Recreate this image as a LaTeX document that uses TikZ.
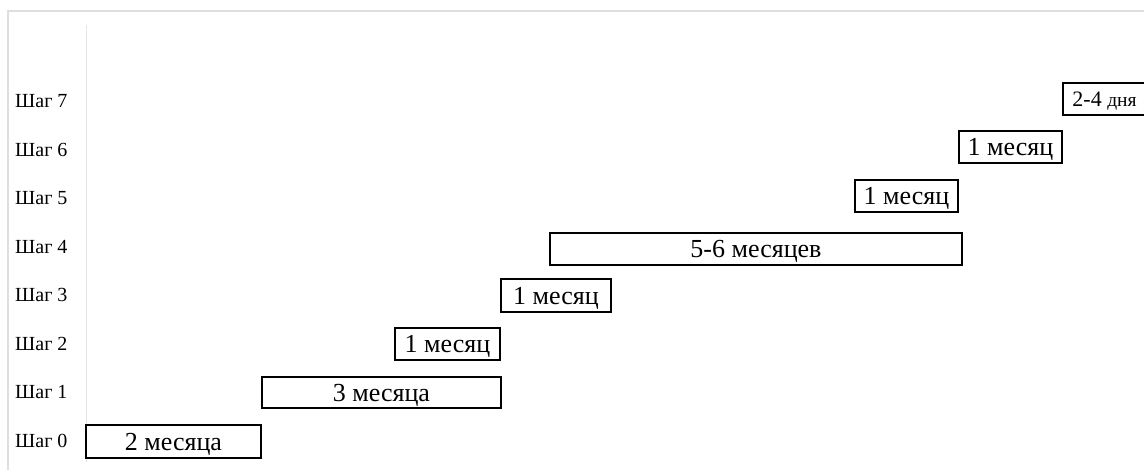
\documentclass[tikz,border=0pt]{standalone}
\usepackage{fontspec}
\setmainfont{Liberation Serif}
\usepackage{tikz}
\usetikzlibrary{positioning}

\begin{document}
\begin{tikzpicture}[x=1pt, y=-1pt,
	bar/.style={draw=black, line width=1.2pt, inner sep=0pt, text height=18pt, text depth=0pt, font=\fontsize{26}{30}\selectfont},
	steplabel/.style={anchor=base west, inner sep=0pt, font=\fontsize{20}{24}\selectfont}]
	\useasboundingbox (0,0) rectangle (1144,470);
	\clip (0,0) rectangle (1144,470);
	
	% Рамка и ось
	\draw[black!13, line width=1.2pt] (8,480) -- (8,11) -- (1150,11);
	\draw[black!10, line width=1pt] (86,25) -- (86,462);
	
	% Подписи шагов
	\foreach \i/\y in {0/447.5,1/399,2/350.5,3/302,4/253.5,5/205,6/156.5,7/108}
		\node[steplabel] (s\i) at (15,\y) {Шаг \i};
	
	% Этапы
	\node[bar, minimum width=175, minimum height=33] (b0) at (173.5,441.5) {2 месяца};
	\node[bar, minimum width=239, minimum height=31] (b1) at (381.5,392.5) {3 месяца};
	\node[bar, minimum width=105, minimum height=32] (b2) at (447.5,344) {1 месяц};
	\node[bar, minimum width=110, minimum height=33] (b3) at (556,295.5) {1 месяц};
	\node[bar, minimum width=412, minimum height=32] (b4) at (756,249) {5-6 месяцев};
	\node[bar, minimum width=103, minimum height=32] (b5) at (906.5,196) {1 месяц};
	\node[bar, minimum width=103, minimum height=32] (b6) at (1010.5,147) {1 месяц};
	\node[bar, minimum width=83, minimum height=32, text height=16pt, font=\fontsize{22}{26}\selectfont] (b7) at (1104.5,99) {2-4 {\fontsize{19.5}{22}\selectfont дня}};
\end{tikzpicture}
\end{document}
